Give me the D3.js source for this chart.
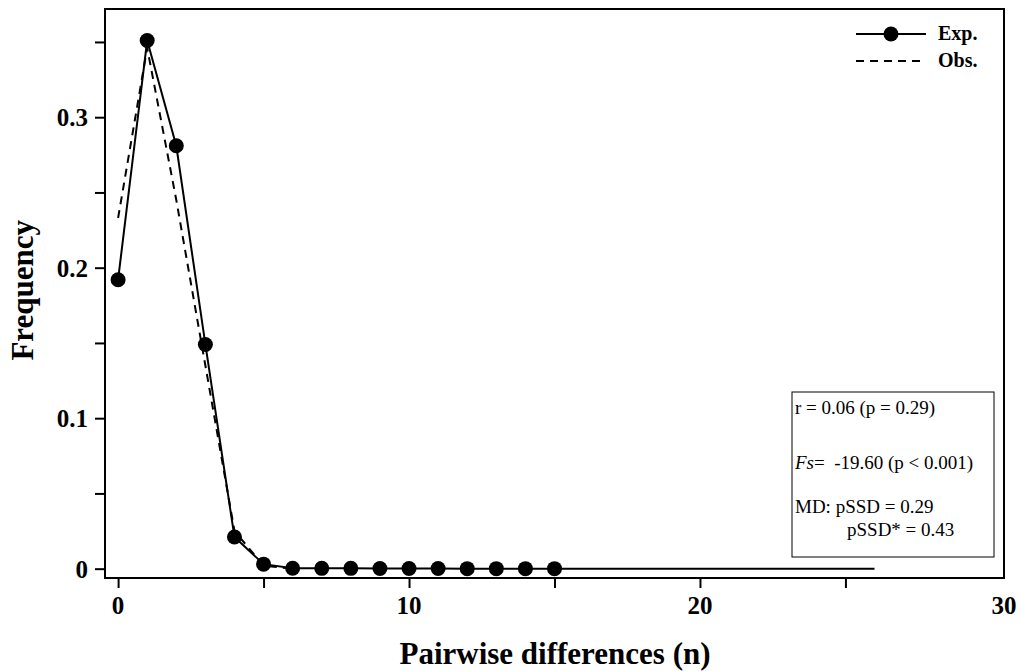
<!DOCTYPE html>
<meta charset="utf-8">
<style>
html, body { margin: 0; padding: 0; background: #fff; }
svg { display: block; font-family: "Liberation Serif", "Times New Roman", serif; }
.frame { fill: none; stroke: #000; stroke-width: 2; }
.axis path { display: none; }
.axis line { stroke: #000; stroke-width: 2; }
.ticklab { font-size: 25px; font-weight: bold; }
.title { font-size: 31px; font-weight: bold; }
.exp { fill: none; stroke: #000; stroke-width: 2; }
.obs { fill: none; stroke: #000; stroke-width: 2; stroke-dasharray: 8,6; }
.stats { font-size: 19px; }
</style>
<div id="chart"></div>
<script src="https://cdn.jsdelivr.net/npm/d3@7"></script>
<script>

// pairwise differences, expected (solid w/ dots) and observed (dashed)
var expX = d3.range(0, 27);
var expY = [0.192, 0.351, 0.281, 0.149, 0.021, 0.003, 0.0003, 0.0002, 0.0002, 0.0001,
            0.0001, 0.0001, 0, 0, 0, 0, 0, 0, 0, 0, 0, 0, 0, 0, 0, 0, 0];
var nDots = 16; // markers only on 0..15

var obsX = [0, 1, 2, 3, 4, 5, 6];
var obsY = [0.233, 0.346, 0.245, 0.135, 0.025, 0.002, 0];

var xTicks = [0, 5, 10, 15, 20, 25];
var xLabels = [0, 10, 20, 30];
var yTicks = [0, 0.05, 0.1, 0.15, 0.2, 0.25, 0.3, 0.35];
var yLabels = [0, 0.1, 0.2, 0.3];

var legendNames = ["Exp.", "Obs."];
var statLines = ["r = 0.06 (p = 0.29)", "= -19.60 (p < 0.001)", "MD: pSSD = 0.29", "pSSD* = 0.43"];

var W = 1021, H = 671;
var margin = {top: 9, left: 105, right: 17, bottom: 93};
var width = W - margin.left - margin.right,
    height = H - margin.top - margin.bottom;

var svg = d3.select("#chart").append("svg")
    .attr("width", W)
    .attr("height", H);

var g = svg.append("g")
    .attr("transform", "translate(" + margin.left + "," + margin.top + ")");

var x = d3.scaleLinear().domain([-0.45, 30.45]).range([0, width]);
var y = d3.scaleLinear().domain([-0.0062, 0.3719]).range([height, 0]);

// ticks (outward), labels drawn separately
g.append("g")
    .attr("class", "axis")
    .attr("transform", "translate(0," + height + ")")
    .call(d3.axisBottom(x).tickValues(xTicks).tickSize(10).tickFormat(""));

g.append("g")
    .attr("class", "axis")
    .call(d3.axisLeft(y).tickValues(yTicks).tickSize(10).tickFormat(""));

g.selectAll(".xlab")
    .data(xLabels)
  .enter().append("text")
    .attr("class", "ticklab")
    .attr("text-anchor", "middle")
    .attr("x", function(d, i) { return i === xLabels.length - 1 ? width : x(d); })
    .attr("y", height + 36)
    .text(function(d) { return d; });

g.selectAll(".ylab")
    .data(yLabels)
  .enter().append("text")
    .attr("class", "ticklab")
    .attr("text-anchor", "end")
    .attr("x", -17)
    .attr("y", function(d) { return y(d) + 9; })
    .text(function(d) { return d === 0 ? "0" : d3.format(".1f")(d); });

// lines
var line = d3.line()
    .x(function(d) { return x(d[0]); })
    .y(function(d) { return y(d[1]); });

g.append("path")
    .attr("class", "obs")
    .attr("d", line(obsX.map(function(v, i) { return [v, obsY[i]]; })));

var expPts = expX.map(function(v, i) { return [v, expY[i]]; });
g.append("path")
    .attr("class", "exp")
    .attr("d", line(expPts));

g.selectAll(".dot")
    .data(expPts.slice(0, nDots))
  .enter().append("circle")
    .attr("cx", function(d) { return x(d[0]); })
    .attr("cy", function(d) { return y(d[1]); })
    .attr("r", 7.5)
    .attr("fill", "#000");

// frame
g.append("rect")
    .attr("class", "frame")
    .attr("width", width)
    .attr("height", height);

// legend
var lg = g.append("g").attr("transform", "translate(" + (width - 148) + ",25)");
lg.append("line").attr("class", "exp").attr("x1", 0).attr("x2", 70).attr("y1", 0).attr("y2", 0);
lg.append("circle").attr("cx", 35).attr("cy", 0).attr("r", 7.5).attr("fill", "#000");
lg.append("line").attr("class", "obs").attr("x1", 0).attr("x2", 66).attr("y1", 27).attr("y2", 27);
lg.selectAll(".ltxt")
    .data(legendNames)
  .enter().append("text")
    .attr("x", 82)
    .attr("y", function(d, i) { return 6 + i * 27; })
    .style("font-size", "20px")
    .style("font-weight", "bold")
    .text(function(d) { return d; });

// stats box
var sb = g.append("g").attr("transform", "translate(" + (792 - margin.left) + "," + (392 - margin.top) + ")");
sb.append("rect")
    .attr("width", 202)
    .attr("height", 165)
    .attr("fill", "#fff")
    .attr("stroke", "#000")
    .attr("stroke-width", 1);

var st = sb.append("g").attr("class", "stats");
st.append("text").attr("x", 3).attr("y", 22).text(statLines[0]);
var fs = st.append("text").attr("x", 3).attr("y", 77);
fs.append("tspan").style("font-style", "italic").text("Fs");
fs.append("tspan").attr("xml:space", "preserve").text(statLines[1].replace("= ", "=  "));
st.append("text").attr("x", 3).attr("y", 121).text(statLines[2]);
st.append("text").attr("x", 55).attr("y", 144).text(statLines[3]);

// axis titles
svg.append("text")
    .attr("class", "title")
    .attr("text-anchor", "middle")
    .attr("transform", "translate(33," + (margin.top + y(0.185)) + ") rotate(-90)")
    .text("Frequency");

svg.append("text")
    .attr("class", "title")
    .attr("text-anchor", "middle")
    .attr("x", 555)
    .attr("y", 664)
    .text("Pairwise differences (n)");

</script>
